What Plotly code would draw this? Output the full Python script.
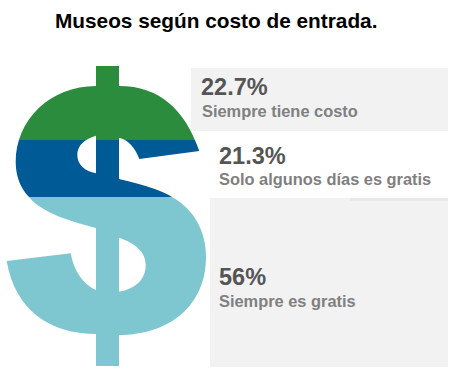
import plotly.graph_objects as go

W, H = 476, 388

# Data
categories = ["Siempre tiene costo", "Solo algunos días es gratis", "Siempre es gratis"]
percent_labels = ["22.7%", "21.3%", "56%"]
band_shares = [24.7, 19.0, 56.3]  # height share of the glyph filled by each colour, as drawn
band_colors = ["#2b8c3e", "#005a96", "#7fc7d0"]
title_text = "Museos según costo de entrada."


def px(x):
    return x / W


def py(y):
    return 1 - y / H


def path(cmds):
    """cmds: list of (letter, [x, y, ...]) in page pixels -> SVG path in paper coordinates."""
    out = []
    for c, pts in cmds:
        conv = []
        for i in range(0, len(pts), 2):
            conv.append(f"{px(pts[i]):.5f},{py(pts[i + 1]):.5f}")
        out.append(c + " ".join(conv))
    return " ".join(out) + " Z"


outer = path([
    ("M", [96, 66]), ("L", [119, 66]), ("L", [119, 86]),
    ("C", [160, 86, 185, 110, 199.3, 151]),
    ("L", [139.3, 159]),
    ("C", [135, 147, 128, 140, 119, 137.7]),
    ("L", [119, 179]),
    ("C", [145, 185, 163, 191, 172, 197]),
    ("C", [195, 210, 206, 232, 206, 257]),
    ("C", [206, 305, 170, 335, 119, 335]),
    ("L", [119, 366]), ("L", [96, 366]), ("L", [96, 334]),
    ("C", [50, 334, 15, 310, 6.7, 261]),
    ("L", [70.7, 253.3]),
    ("C", [74, 272, 84, 285, 96, 290]),
    ("L", [96, 228]),
    ("C", [70, 221, 42, 213, 29, 197]),
    ("C", [20, 188, 15.7, 175, 15.7, 162]),
    ("C", [15.7, 120, 50, 86, 96, 86]),
])
hole_a = path([
    ("M", [96, 135.7]),
    ("C", [84, 139, 77.3, 146, 77.3, 155]),
    ("C", [77.3, 165, 85, 171, 96, 173.3]),
])
hole_b = path([
    ("M", [119, 237.7]),
    ("C", [135, 243, 145.7, 252, 145.7, 265]),
    ("C", [145.7, 280, 135, 289, 119, 291.7]),
])
mask_rect = path([("M", [2, 64]), ("L", [210, 64]), ("L", [210, 368]), ("L", [2, 368])])

fig = go.Figure()
for name, share, color in zip(categories, band_shares, band_colors):
    fig.add_trace(go.Bar(x=[0], y=[share], name=name, width=1,
                         marker=dict(color=color, line=dict(width=0)),
                         hoverinfo="skip", showlegend=False))


def panel(x0, y0, x1, y1, color="#f2f2f2"):
    return dict(type="rect", xref="paper", yref="paper", x0=px(x0), x1=px(x1),
                y0=py(y1), y1=py(y0), fillcolor=color, line_width=0, layer="above")


shapes = [
    dict(type="path", xref="paper", yref="paper", layer="above",
         path=" ".join([mask_rect, outer, hole_a, hole_b]),
         fillcolor="white", line_width=0, fillrule="evenodd"),
    panel(191, 68, 448, 131),
    panel(210, 198, 448, 367),
    panel(350, 198, 448, 201, "#e9e9e9"),
]


def label(x, y, text, size, color):
    return dict(xref="paper", yref="paper", x=px(x), y=py(y), text=text, showarrow=False,
                xanchor="left", yanchor="middle", xshift=0,
                font=dict(family="Liberation Sans", size=size, color=color),
                borderpad=0, borderwidth=0)


annotations = [
    label(200.5, 87.5, f"<b>{percent_labels[0]}</b>", 23.5, "#555555"),
    label(201.5, 111.5, f"<b>{categories[0]}</b>", 16.4, "#808080"),
    label(219, 156, f"<b>{percent_labels[1]}</b>", 23.5, "#555555"),
    label(219, 179, f"<b>{categories[1]}</b>", 16.4, "#808080"),
    label(219, 277, f"<b>{percent_labels[2]}</b>", 23.5, "#555555"),
    label(219, 301, f"<b>{categories[2]}</b>", 16.4, "#808080"),
    label(55, 20.5, f"<b>{title_text}</b>", 20.8, "#000000"),
]

fig.update_layout(
    width=W, height=H, margin=dict(l=0, r=0, t=0, b=0, pad=0),
    barmode="stack", bargap=0,
    paper_bgcolor="white", plot_bgcolor="white",
    showlegend=False,
    xaxis=dict(visible=False, range=[-0.5, 0.5], domain=[px(4), px(209)], fixedrange=True),
    yaxis=dict(visible=False, range=[100, 0], domain=[py(366), py(66)], fixedrange=True),
    shapes=shapes, annotations=annotations,
)

fig.write_html("out.html", config={"displayModeBar": False},
               post_script="document.body.style.margin='0';")
